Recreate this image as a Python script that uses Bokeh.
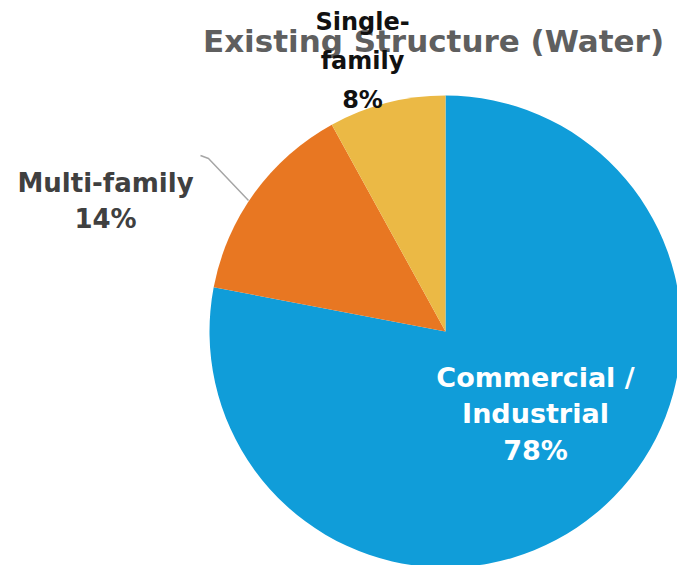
import math
from bokeh.plotting import figure
from bokeh.models import Range1d, ColumnDataSource, Label
from bokeh.embed import file_html
from bokeh.resources import INLINE

categories = ["Commercial / Industrial", "Multi-family", "Single-family"]
shares = [78, 14, 8]
colors = ["#109DD9", "#E87722", "#EBB945"]

W, H = 677, 565
cx, cy, r = 445, H - 331, 236

total = sum(shares)
starts, ends = [], []
cum = 0.0
for s in shares:
    starts.append(math.pi / 2 - 2 * math.pi * cum / total)
    cum += s
    ends.append(math.pi / 2 - 2 * math.pi * cum / total)

src = ColumnDataSource(dict(cat=categories, share=shares, color=colors,
                            start=starts, end=ends))

p = figure(width=W, height=H, x_range=Range1d(0, W), y_range=Range1d(0, H),
           output_backend="svg", toolbar_location=None, min_border=0)
p.axis.visible = False
p.grid.visible = False
p.outline_line_color = None
p.background_fill_color = "white"

p.wedge(x=cx, y=cy, radius=r, start_angle="start", end_angle="end",
        direction="clock", fill_color="color", line_color="white",
        line_width=0, source=src)

font = "DejaVu Sans"

def lab(x, y, text, color, size):
    p.add_layout(Label(x=x, y=H - y, text=text, text_color=color,
                       text_font=font, text_font_size=size,
                       text_font_style="bold", text_align="center",
                       text_baseline="middle"))

# title
lab(433, 40, "Existing Structure (Water)", "#5f5f5f", "31px")

# leader line for multi-family
p.line(x=[200, 208, 248], y=[H - 155, H - 158, H - 200], line_color="#A6A6A6", line_width=1.5)

# Single-family label
lab(362, 21, "Single-", "#111111", "24px")
lab(362, 60, "family", "#111111", "24px")
lab(362, 99, f"{shares[2]}%", "#111111", "24px")

# Multi-family
lab(105, 182, "Multi-family", "#404040", "26px")
lab(105, 218, f"{shares[1]}%", "#404040", "26px")

# Commercial
lab(535, 377, "Commercial /", "white", "27px")
lab(535, 413, "Industrial", "white", "27px")
lab(535, 450, f"{shares[0]}%", "white", "27px")

open("out.html", "w").write(file_html(p, INLINE))
